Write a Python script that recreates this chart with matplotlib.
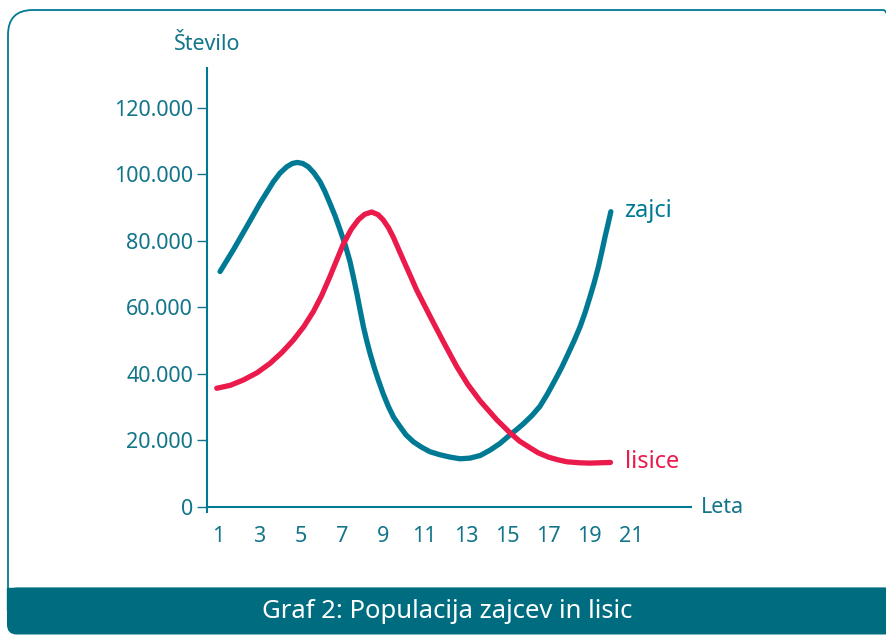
import matplotlib
matplotlib.use("Agg")
import matplotlib.pyplot as plt
from matplotlib.patches import FancyBboxPatch, Rectangle

# data
leta_zajci = [1.1, 1.74, 2.39, 3.03, 3.68, 4.0, 4.33, 4.6, 4.84, 5.1, 5.37,
              5.65, 5.94, 6.18, 6.42, 6.67, 6.91, 7.15, 7.39, 7.56, 7.72,
              7.88, 8.04, 8.2, 8.36, 8.56, 8.76, 9.0, 9.25, 9.5, 9.81, 10.1,
              10.46, 10.85, 11.27, 11.75, 12.24, 12.72, 13.2, 13.7, 14.17,
              14.65, 15.14, 15.5, 15.78, 16.2, 16.59, 16.95, 17.32, 17.65,
              17.96, 18.25, 18.53, 18.78, 19.01, 19.22, 19.42, 19.58, 19.74,
              19.88, 20.02]
zajci = [70800, 77300, 84300, 91300, 97800, 100400, 102300, 103300, 103600,
         103300, 102300, 100400, 97800, 94800, 91300, 87500, 83300, 79000,
         73800, 69000, 64300, 59200, 54200, 50000, 46200, 42000, 38200, 34000,
         30200, 27000, 24200, 21700, 19600, 18000, 16600, 15700, 15000, 14500,
         14700, 15500, 17100, 19100, 21700, 23500, 25000, 27500, 30300, 34000,
         38200, 42100, 46200, 50100, 54200, 58600, 63200, 67600, 72300, 76700,
         81300, 85000, 88800]

leta_lisice = [0.94, 1.6, 2.23, 2.9, 3.52, 4.1, 4.65, 5.15, 5.62, 6.02, 6.42,
               6.75, 7.07, 7.45, 7.8, 8.1, 8.44, 8.75, 9.0, 9.25, 9.49, 9.97,
               10.3, 10.62, 11.27, 11.9, 12.56, 13.1, 13.69, 14.5, 15.14, 15.6,
               16.11, 16.5, 17.0, 17.45, 17.89, 18.5, 19.0, 19.5, 20.0]
lisice = [35700, 36600, 38200, 40400, 43200, 46500, 50200, 54200, 58800,
          63600, 69300, 74300, 79100, 83500, 86400, 88000, 88700, 87900, 86300,
          84000, 81100, 74300, 69700, 65200, 57300, 49800, 42200, 36800, 31900,
          26200, 22300, 19800, 17800, 16300, 15000, 14200, 13600, 13300, 13200,
          13300, 13400]

x_ticks = [1, 3, 5, 7, 9, 11, 13, 15, 17, 19, 21]
y_ticks = [0, 20000, 40000, 60000, 80000, 100000, 120000]
y_labels = ["0", "20.000", "40.000", "60.000", "80.000", "100.000", "120.000"]

TEAL = "#007a94"
TEXT = "#137589"
RED = "#ea1a4b"
BANNER = "#006c80"
W, H = 886, 635

plt.rcParams["font.family"] = ["Noto Sans", "DejaVu Sans"]

fig = plt.figure(figsize=(W / 100, H / 100), dpi=100)

# frame round the chart (figure pixels, y measured from the bottom)
frame = FancyBboxPatch((8 / W, 10 / H), 900 / W, 615 / H,
                       boxstyle="round,pad=0,rounding_size=0.028",
                       transform=fig.transFigure, fill=False,
                       edgecolor=TEAL, linewidth=1.3, mutation_aspect=W / H)
fig.patches.append(frame)
# caption banner with rounded lower corners
banner = FancyBboxPatch((7 / W, 0.5 / H), 900 / W, 47 / H,
                        boxstyle="round,pad=0,rounding_size=0.011",
                        transform=fig.transFigure, facecolor=BANNER,
                        edgecolor="none", mutation_aspect=W / H)
fig.patches.append(banner)
fig.patches.append(Rectangle((7 / W, 25 / H), (W - 7) / W, 22 / H,
                             transform=fig.transFigure, color=BANNER))
fig.text(447 / W, 23 / H, "Graf 2: Populacija zajcev in lisic", color="white",
         fontsize=18.5, ha="center", va="center")

ax = fig.add_axes([207 / W, 123 / H, (691 - 207) / W, (512 - 68) / H])
ax.set_xlim(0.467, 23.9)
ax.set_ylim(-1500, 132000)

ax.plot(leta_zajci, zajci, color=TEAL, lw=3.8, solid_capstyle="round",
        solid_joinstyle="round")
ax.plot(leta_lisice, lisice, color=RED, lw=3.8, solid_capstyle="round",
        solid_joinstyle="round")

ax.text(leta_zajci[-1] + 0.65, zajci[-1] + 300, "zajci", color=TEAL,
        fontsize=17, va="center", ha="left")
ax.text(leta_lisice[-1] + 0.7, lisice[-1], "lisice", color=RED, fontsize=17,
        va="center", ha="left")

for side in ["top", "right"]:
    ax.spines[side].set_visible(False)
for side in ["left", "bottom"]:
    ax.spines[side].set_color(TEAL)
    ax.spines[side].set_linewidth(1.5)
ax.spines["bottom"].set_position(("data", 0))

ax.set_xticks(x_ticks)
ax.set_xticklabels([str(t) for t in x_ticks])
ax.set_yticks(y_ticks)
ax.set_yticklabels(y_labels)
ax.tick_params(axis="x", length=0, pad=14, labelsize=15.5, labelcolor=TEXT)
ax.tick_params(axis="y", length=7, width=1, color=TEXT, pad=3,
               labelsize=15.5, labelcolor=TEXT)

ax.text(0.0, 1.03, "Število", transform=ax.transAxes, color=TEXT,
        fontsize=15.5, ha="center", va="bottom")
ax.text(1.02, 0.0, "Leta", transform=ax.get_yaxis_transform(), color=TEXT,
        fontsize=15.5, ha="left", va="center")

fig.savefig("out.png", dpi=100)
